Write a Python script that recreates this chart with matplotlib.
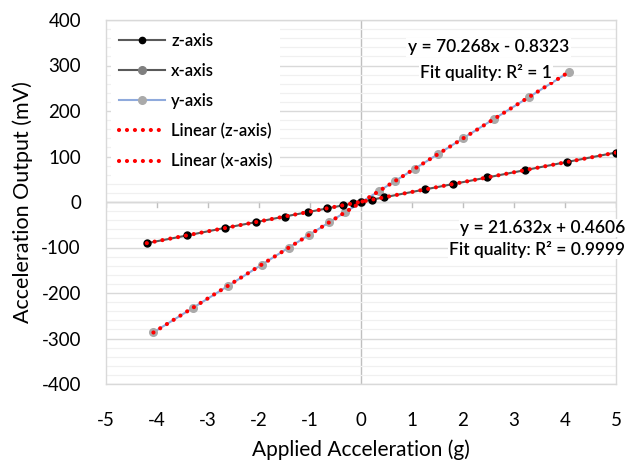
import matplotlib
matplotlib.use("Agg")
import matplotlib.pyplot as plt
import numpy as np
from matplotlib.ticker import MultipleLocator
from matplotlib.lines import Line2D

plt.rcParams['font.family'] = ['Lato', 'DejaVu Sans']
plt.rcParams['axes.unicode_minus'] = False

# z-axis data (shallow line)
z_x = [-4.2, -3.41, -2.67, -2.05, -1.5, -1.03, -0.66, -0.36, -0.15, 0.0, 0.22, 0.45, 1.26, 1.81, 2.48, 3.21, 4.04, 5.0]
z_y = [-90.5, -73.5, -57.0, -44.0, -32.0, -22.0, -14.0, -7.5, -2.8, 0.5, 5.3, 10.2, 27.7, 39.6, 54.0, 69.9, 88.0, 108.7]

# y-axis data (steep line)
y_x = [-4.07, -3.3, -2.6, -1.95, -1.42, -1.02, -0.62, -0.32, 0.0, 0.36, 0.66, 1.06, 1.5, 2.0, 2.6, 3.3, 4.07]
y_y = [-286.5, -233.0, -184.0, -138.0, -100.5, -72.5, -44.5, -23.0, -0.8, 24.5, 45.5, 73.5, 104.5, 140.0, 182.0, 231.0, 285.0]

# x-axis series (legend entry only, not distinguishable in the chart)
x_x = []
x_y = []

# Trendline coefficients (from chart labels)
fit_z = (21.632, 0.4606)
fit_steep = (70.268, -0.8323)

W, H = 643, 467
fig = plt.figure(figsize=(W / 100, H / 100), dpi=100)
ax = fig.add_axes([106 / W, 1 - 384 / H, (616 - 106) / W, (384 - 20) / H])

ax.set_xlim(-5, 5)
ax.set_ylim(-400, 400)

ax.yaxis.set_major_locator(MultipleLocator(100))
ax.yaxis.set_minor_locator(MultipleLocator(20))
ax.xaxis.set_major_locator(MultipleLocator(1))
ax.grid(which='minor', axis='y', color='#f0f0f0', lw=0.9, zorder=0)
ax.grid(which='major', axis='y', color='#d9d9d9', lw=1.0, zorder=0)
ax.tick_params(which='both', length=0)
ax.tick_params(axis='both', labelsize=13.5, colors='black')
ax.tick_params(axis='x', pad=20)
ax.tick_params(axis='y', pad=18)
for s in ax.spines.values():
    s.set_color('#d9d9d9')
    s.set_linewidth(1.0)

ax.axvline(0, color='#bfbfbf', lw=1.0, zorder=1)
ax.axhline(0, color='#bfbfbf', lw=1.0, zorder=1)
for t in range(-5, 6):
    ax.plot([t, t], [0, -11], color='#bfbfbf', lw=1.0, zorder=1)

dot = (0, (0.01, 1.9))

ax.plot(x_x, x_y, color='#595959', lw=1.5, marker='o', ms=5, mfc='#7f7f7f', mec='#7f7f7f', zorder=2)
ax.plot(y_x, y_y, color='#8faadc', lw=1.5, marker='o', ms=5.5, mfc='#aaaaaa', mec='#aaaaaa', zorder=3)
ax.plot(z_x, z_y, color='#595959', lw=1.5, marker='o', ms=5, mfc='black', mec='black', zorder=3)

xs_z = np.array([min(z_x), max(z_x)])
xs_s = np.array([min(y_x), max(y_x)])
ax.plot(xs_z, fit_z[0] * xs_z + fit_z[1], color='#ff0000', lw=3.0, ls=dot,
        dash_capstyle='round', zorder=4)
ax.plot(xs_s, fit_steep[0] * xs_s + fit_steep[1], color='#ff0000', lw=3.0, ls=dot,
        dash_capstyle='round', zorder=4)

handles = [
    Line2D([], [], color='#595959', lw=1.5, marker='o', ms=4.5, mfc='black', mec='black'),
    Line2D([], [], color='#595959', lw=1.5, marker='o', ms=5.5, mfc='#7f7f7f', mec='#7f7f7f'),
    Line2D([], [], color='#8faadc', lw=1.5, marker='o', ms=5.5, mfc='#aaaaaa', mec='#aaaaaa'),
    Line2D([], [], color='#ff0000', lw=3.0, ls=dot, dash_capstyle='round'),
    Line2D([], [], color='#ff0000', lw=3.0, ls=dot, dash_capstyle='round'),
]
labels = ['z-axis', 'x-axis', 'y-axis', 'Linear (z-axis)', 'Linear (x-axis)']
leg = ax.legend(handles, labels, loc='upper left', bbox_to_anchor=(0.0, 1.0), frameon=True,
                fancybox=False, edgecolor='none', facecolor='white', framealpha=1,
                fontsize=12, handlelength=2.8, handletextpad=0.35, labelspacing=0.85,
                borderpad=0.45, borderaxespad=0.3)
for t in leg.get_texts():
    t.set_fontweight('semibold')
leg.set_zorder(5)

bbox = dict(facecolor='white', edgecolor='none', pad=1)
ax.text(2.5, 340, 'y = 70.268x - 0.8323', ha='center', va='center', fontsize=12.5,
        fontweight='semibold', bbox=bbox, zorder=6)
ax.text(2.45, 285, 'Fit quality: R² = 1', ha='center', va='center', fontsize=12.5,
        fontweight='semibold', bbox=bbox, zorder=6)
ax.text(5.18, -57, 'y = 21.632x + 0.4606', ha='right', va='center', fontsize=12.5,
        fontweight='semibold', bbox=bbox, zorder=6)
ax.text(5.18, -104, 'Fit quality: R² = 0.9999', ha='right', va='center', fontsize=12.5,
        fontweight='semibold', bbox=bbox, zorder=6)

ax.set_xlabel('Applied Acceleration (g)', fontsize=15, labelpad=8)
ax.set_ylabel('Acceleration Output (mV)', fontsize=15.5, labelpad=6)

fig.savefig('out.png', dpi=100, facecolor='white')
